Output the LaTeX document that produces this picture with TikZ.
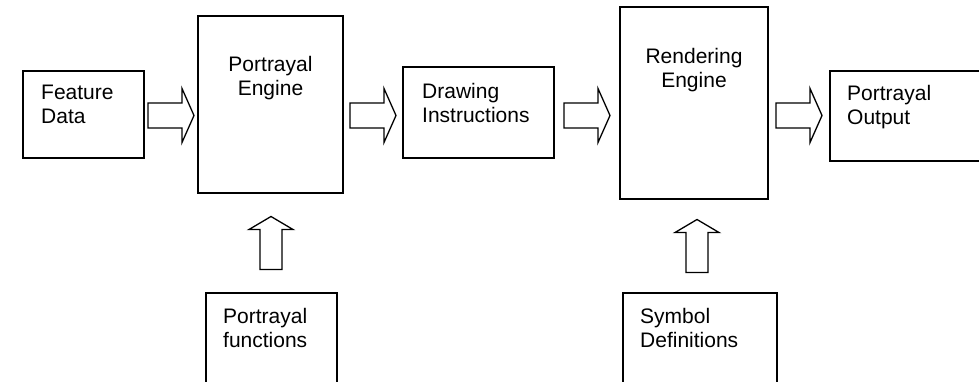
\documentclass[tikz,border=0pt]{standalone}
\usepackage{fontspec}
\setmainfont{Liberation Sans}
\usetikzlibrary{positioning}
\usetikzlibrary{calc}
\tikzset{
  flow-box/.style 2 args={draw, line width=1.3pt, inner sep=0pt, outer sep=0pt,
    anchor=north west, minimum width=#1, minimum height=#2},
  flow-text/.style={inner sep=0pt, align=left, anchor=north west,
    font=\fontsize{21}{24}\selectfont},
  engine-text/.style={flow-text, align=center, anchor=north},
  block-arrow/.style={draw, line width=1.3pt, line join=miter, fill=white},
}
% hollow arrow between two boxes, along the flow line
\newcommand{\flowarrow}[2]{%
\draw[block-arrow] let \p1=($(#1.east |- flow)!0.5!(#2.west |- flow)$) in
  (\x1-23pt,\y1+12.5pt) -- (\x1+11pt,\y1+12.5pt) -- (\x1+11pt,\y1+27pt)
  -- (\x1+23pt,\y1) -- (\x1+11pt,\y1-27pt) -- (\x1+11pt,\y1-12.5pt)
  -- (\x1-23pt,\y1-12.5pt) -- cycle;
}
% hollow arrow pointing up from #2 into #3
\newcommand{\feedarrow}[3][]{%
\draw[block-arrow,#1] let \p1=($(#2.north)!0.5!(#3.south)$) in
  (\x1-11pt,\y1-26.5pt) -- (\x1-11pt,\y1+13.5pt) -- (\x1-22pt,\y1+13.5pt)
  -- (\x1,\y1+26.5pt) -- (\x1+22pt,\y1+13.5pt) -- (\x1+11pt,\y1+13.5pt)
  -- (\x1+11pt,\y1-26.5pt) -- cycle;
}
\begin{document}
\begin{tikzpicture}[x=1pt, y=-1pt]
\clip (0,0) rectangle (979,382);
\coordinate (flow) at (0,115.5);
% boxes
\node[flow-box={121pt}{87pt}] (feature) at (23,71) {};
\node[flow-box={145pt}{177pt}] (portrayal) at (198,16) {};
\node[flow-box={151pt}{91pt}] (instructions) at (403,67) {};
\node[flow-box={148pt}{192pt}] (rendering) at (620,7) {};
\node[flow-box={170pt}{90pt}] (output) at (830,71) {};
\node[flow-box={131pt}{110pt}] (functions) at (206,293) {};
\node[flow-box={154pt}{110pt}] (symbols) at (623,293) {};
% texts
\node[flow-text] (feature-text) at ($(feature.north west)+(18,14)$) {Feature\\Data};
\node[engine-text] (portrayal-text) at ($(portrayal.north)+(0,40)$) {Portrayal\\Engine};
\node[flow-text] (instructions-text) at ($(instructions.north west)+(19,16)$) {Drawing\\Instructions};
\node[engine-text] (rendering-text) at ($(rendering.north)+(0,41)$) {Rendering\\Engine};
\node[flow-text] (output-text) at ($(output.north west)+(17,14)$) {Portrayal\\Output};
\node[flow-text] (functions-text) at ($(functions.north west)+(17,15)$) {Portrayal\\functions};
\node[flow-text] (symbols-text) at ($(symbols.north west)+(17,15)$) {Symbol\\Definitions};
% arrows
\flowarrow{feature}{portrayal}
\flowarrow{portrayal}{instructions}
\flowarrow{instructions}{rendering}
\flowarrow{rendering}{output}
\feedarrow[xshift=-6pt,yshift=-2pt]{functions}{portrayal}
\feedarrow[xshift=-6pt,yshift=-2pt]{symbols}{rendering}
\end{tikzpicture}
\end{document}
